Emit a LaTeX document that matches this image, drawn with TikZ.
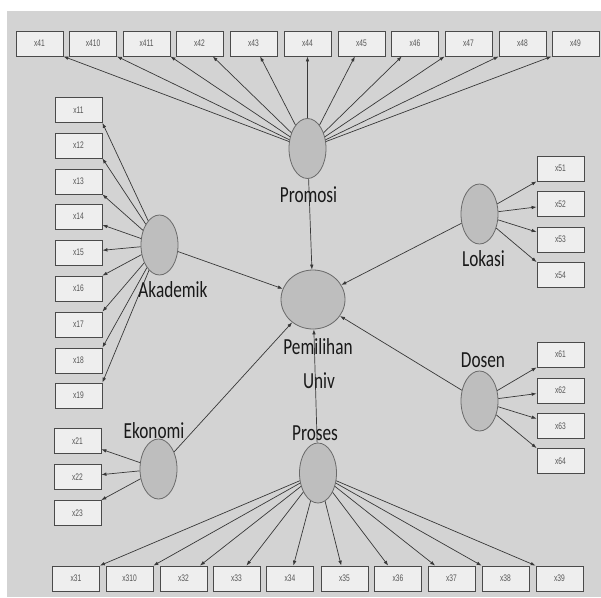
\documentclass[tikz,border=0pt]{standalone}
\usepackage{fontspec}
\usepackage{tikz}
\usetikzlibrary{shapes.geometric, arrows.meta}

\newfontfamily\latfont[FakeStretch=0.75]{Carlito}
\newfontfamily\indfont[FakeStretch=0.7]{Liberation Sans}

\definecolor{bggray}{HTML}{D3D3D3}
\definecolor{boxfill}{HTML}{EEEEEE}
\definecolor{boxedge}{HTML}{4A4A4A}
\definecolor{boxtext}{HTML}{555555}
\definecolor{latfill}{HTML}{BEBEBE}
\definecolor{latedge}{HTML}{6A6A6A}
\definecolor{linegray}{HTML}{383838}

\begin{document}
\begin{tikzpicture}[x=1pt, y=-1pt, >={Latex[length=5pt,width=3.6pt]},
  ind/.style={draw=boxedge, fill=boxfill, line width=0.8pt, minimum width=47pt,
    minimum height=25pt, inner sep=0pt, text=boxtext,
    font=\indfont\fontsize{9.5}{10}\selectfont},
  lat/.style={ellipse, draw=latedge, fill=latfill, line width=0.8pt,
    minimum width=37pt, minimum height=60pt, inner sep=0pt},
  lbl/.style={inner sep=0pt, text=black!90, font=\latfont\fontsize{23}{23}\selectfont},
  conn/.style={->, draw=linegray, line width=0.7pt}]
\useasboundingbox (0,0) rectangle (601,597);

% Background
\fill [bggray] (7,11) rectangle (601,597);

% Latent variables
\node (promosi) at (307.5,148.5) [lat] {};
\node (akademik) at (159.5,245) [lat] {};
\node (ekonomi) at (158.5,469) [lat] {};
\node (proses) at (318,473) [lat] {};
\node (lokasi) at (479.5,214) [lat] {};
\node (dosen) at (479.5,401) [lat] {};
\node (pemilihan) at (313,299.5) [lat, minimum width=64pt, minimum height=59pt] {};

% Promosi indicators (top row)
\node (x41) at (39.5,43.5) [ind] {x41};
\node (x410) at (93,43.5) [ind] {x410};
\node (x411) at (146.5,43.5) [ind] {x411};
\node (x42) at (199.5,43.5) [ind] {x42};
\node (x43) at (253.5,43.5) [ind] {x43};
\node (x44) at (307.5,43.5) [ind] {x44};
\node (x45) at (361.5,43.5) [ind] {x45};
\node (x46) at (415,43.5) [ind] {x46};
\node (x47) at (468.5,43.5) [ind] {x47};
\node (x48) at (522.5,43.5) [ind] {x48};
\node (x49) at (575.5,43.5) [ind] {x49};

% Akademik indicators
\node (x11) at (78.5,110) [ind] {x11};
\node (x12) at (78.5,145.5) [ind] {x12};
\node (x13) at (78.5,181.5) [ind] {x13};
\node (x14) at (78.5,216.5) [ind] {x14};
\node (x15) at (78.5,252.5) [ind] {x15};
\node (x16) at (78.5,288.5) [ind] {x16};
\node (x17) at (78.5,324.5) [ind] {x17};
\node (x18) at (78.5,360.5) [ind] {x18};
\node (x19) at (78.5,395.5) [ind] {x19};

% Ekonomi indicators
\node (x21) at (77.5,441) [ind] {x21};
\node (x22) at (77.5,477) [ind] {x22};
\node (x23) at (77.5,513) [ind] {x23};

% Proses indicators (bottom row)
\node (x31) at (76,578.5) [ind] {x31};
\node (x310) at (129.5,578.5) [ind] {x310};
\node (x32) at (183.5,578.5) [ind] {x32};
\node (x33) at (236.5,578.5) [ind] {x33};
\node (x34) at (290,578.5) [ind] {x34};
\node (x35) at (344.5,578.5) [ind] {x35};
\node (x36) at (398,578.5) [ind] {x36};
\node (x37) at (451.5,578.5) [ind] {x37};
\node (x38) at (505.5,578.5) [ind] {x38};
\node (x39) at (559.5,578.5) [ind] {x39};

% Lokasi and Dosen indicators
\node (x51) at (560.5,168.5) [ind] {x51};
\node (x52) at (560.5,204) [ind] {x52};
\node (x53) at (560.5,239.5) [ind] {x53};
\node (x54) at (560.5,275) [ind] {x54};
\node (x61) at (560.5,354.5) [ind] {x61};
\node (x62) at (560.5,390.5) [ind] {x62};
\node (x63) at (560.5,426) [ind] {x63};
\node (x64) at (560.5,461) [ind] {x64};

% Loadings
\draw [conn] (promosi) -- (x41.south east); \draw [conn] (promosi) -- (x410.south east);
\draw [conn] (promosi) -- (x411.south east); \draw [conn] (promosi) -- (x42);
\draw [conn] (promosi) -- (x43); \draw [conn] (promosi) -- (x44);
\draw [conn] (promosi) -- (x45); \draw [conn] (promosi) -- (x46);
\draw [conn] (promosi) -- (x47.south west); \draw [conn] (promosi) -- (x48.south west);
\draw [conn] (promosi) -- (x49.south west);

\draw [conn] (akademik) -- (x11.south east); \draw [conn] (akademik) -- (x12.south east);
\draw [conn] (akademik) -- (x13.south east); \draw [conn] (akademik) -- (x14);
\draw [conn] (akademik) -- (x15); \draw [conn] (akademik) -- (x16);
\draw [conn] (akademik) -- (x17.north east); \draw [conn] (akademik) -- (x18.north east);
\draw [conn] (akademik) -- (x19.north east);

\draw [conn] (ekonomi) -- (x21); \draw [conn] (ekonomi) -- (x22);
\draw [conn] (ekonomi) -- (x23);

\draw [conn] (proses) -- (x31.north east); \draw [conn] (proses) -- (x310.north east);
\draw [conn] (proses) -- (x32); \draw [conn] (proses) -- (x33);
\draw [conn] (proses) -- (x34); \draw [conn] (proses) -- (x35);
\draw [conn] (proses) -- (x36); \draw [conn] (proses) -- (x37);
\draw [conn] (proses) -- (x38.north west); \draw [conn] (proses) -- (x39.north west);

\draw [conn] (lokasi) -- (x51.south west); \draw [conn] (lokasi) -- (x52);
\draw [conn] (lokasi) -- (x53); \draw [conn] (lokasi) -- (x54.north west);
\draw [conn] (dosen) -- (x61.south west); \draw [conn] (dosen) -- (x62);
\draw [conn] (dosen) -- (x63); \draw [conn] (dosen) -- (x64.north west);

% Paths into Pemilihan Univ
\draw [conn] (promosi) -- (pemilihan);
\draw [conn] (akademik) -- (pemilihan);
\draw [conn] (ekonomi) -- (pemilihan);
\draw [conn] (proses) -- (pemilihan);
\draw [conn] (lokasi) -- (pemilihan);
\draw [conn] (dosen) -- (pemilihan);

% Labels
\node (lpromosi) at (308.5,195) [lbl] {Promosi};
\node (lakademik) at (173,289.5) [lbl] {Akademik};
\node (lekonomi) at (154,430.5) [lbl] {Ekonomi};
\node (lproses) at (315,433.5) [lbl] {Proses};
\node (llokasi) at (483.5,259) [lbl] {Lokasi};
\node (ldosen) at (483,360.5) [lbl] {Dosen};
\node (lpemilihan) at (318,346.5) [lbl] {Pemilihan};
\node (luniv) at (319,381) [lbl] {Univ};

\end{tikzpicture}
\end{document}
